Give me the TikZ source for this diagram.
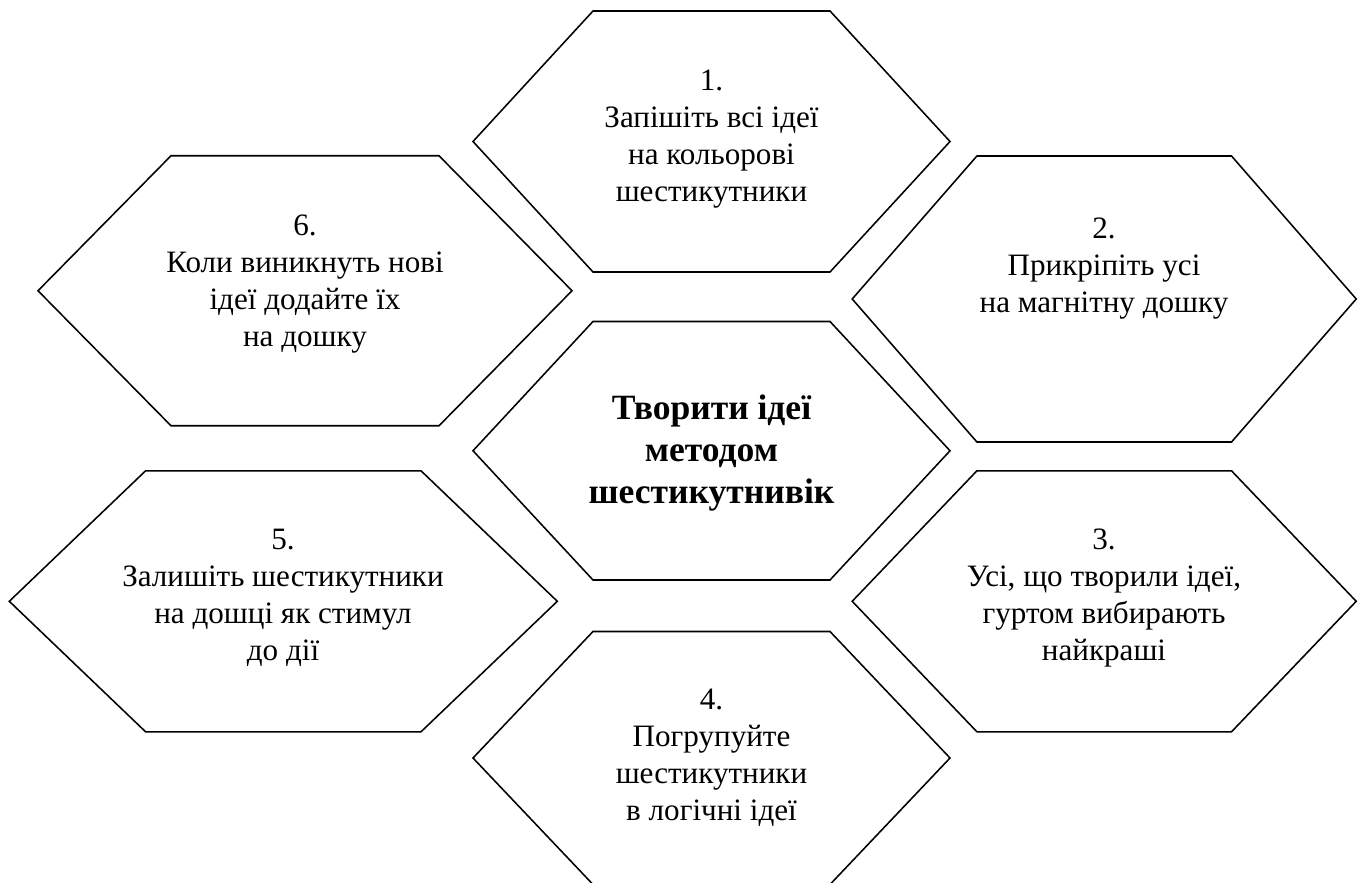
\documentclass[tikz,border=0pt]{standalone}
\usepackage{fontspec}
\setmainfont{Liberation Serif}
\newfontfamily\timesfont{Liberation Serif}

\begin{document}
\begin{tikzpicture}
  [x=0.45pt, y=-0.45pt,
   hexline/.style={line width=0.7pt, draw=black, line join=miter},
   stage_text/.style={font=\timesfont\fontsize{14}{16.65}\selectfont, align=center, anchor=base},
   main_text/.style={font=\timesfont\fontsize{16}{18.7}\selectfont\bfseries, align=center, anchor=base}]

  \useasboundingbox (0,0) rectangle (1359,883);

  % Шестикутники: центр x / центр y / пів-ширина / пів-висота / зріз
  \foreach \cx/\cy/\w/\h/\d in {711.5/141.5/238.5/130.5/120,
                                711.5/450.75/238.5/129.25/120,
                                711.5/758/238.5/126.5/120,
                                305/290.75/267/135/133,
                                283.3/601.3/274/130.5/136.3,
                                1104.2/299/252/143/124.7,
                                1104.2/601.3/252/130.5/124.7}
    \draw[hexline] (\cx-\w,\cy) -- (\cx-\w+\d,\cy-\h) -- (\cx+\w-\d,\cy-\h)
      -- (\cx+\w,\cy) -- (\cx+\w-\d,\cy+\h) -- (\cx-\w+\d,\cy+\h) -- cycle;

  % Центральна ідея (y = лінія останнього рядка)
  \node[main_text] (goal) at (711.5,503) {Творити ідеї\\методом\\шестикутнивік};

  % Кроки
  \node[stage_text] (s1) at (711.5,202) {1.\\Запішіть всі ідеї\\на кольорові\\шестикутники};
  \node[stage_text] (s2) at (1104,313) {2.\\Прикріпіть усі\\на магнітну дошку};
  \node[stage_text] (s3) at (1104,660.7) {3.\\Усі, що творили ідеї,\\гуртом вибирають\\найкраші};
  \node[stage_text] (s4) at (711.5,820.7) {4.\\Погрупуйте\\шестикутники\\в логічні ідеї};
  \node[stage_text] (s5) at (283,660.7) {5.\\Залишіть шестикутники\\на дошці як стимул\\до дії};
  \node[stage_text] (s6) at (305,346.7) {6.\\Коли виникнуть нові\\ідеї додайте їх\\на дошку};
\end{tikzpicture}
\end{document}
